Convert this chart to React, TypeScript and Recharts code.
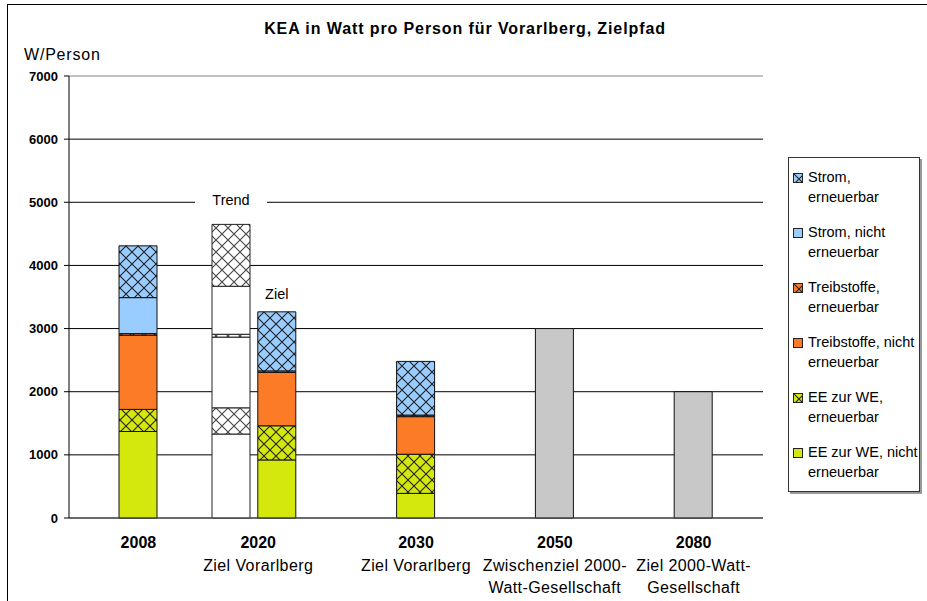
import { BarChart, Bar, XAxis, YAxis, CartesianGrid, LabelList, ReferenceLine } from "recharts";

const FONT = '"Liberation Sans", Arial, sans-serif';

const years = ["2008", "2020", "2030", "2050", "2080"];
const yearNotes = [
  [],
  ["Ziel Vorarlberg"],
  ["Ziel Vorarlberg"],
  ["Zwischenziel 2000-", "Watt-Gesellschaft"],
  ["Ziel 2000-Watt-", "Gesellschaft"],
];
const yTicks = [0, 1000, 2000, 3000, 4000, 5000, 6000, 7000];

// Zielpfad in W/Person
const eeNicht = [1370, 920, 390, null, null];
const eeErn = [350, 540, 620, null, null];
const treibNicht = [1175, 845, 595, null, null];
const treibErn = [25, 25, 25, null, null];
const stromNicht = [570, 0, 0, null, null];
const stromErn = [820, 935, 850, null, null];
const zielwert = [null, null, null, 3000, 2000];

// Trend 2020 (weisse Saeule)
const trendEeNicht = [null, 1330, null, null, null];
const trendEeErn = [null, 415, null, null, null];
const trendTreibNicht = [null, 1120, null, null, null];
const trendTreibErn = [null, 45, null, null, null];
const trendStromNicht = [null, 760, null, null, null];
const trendStromErn = [null, 980, null, null, null];

const barNotes = ["", "Ziel", "", "", ""];
const trendNotes = ["", "Trend", "", "", ""];

const data = years.map((year, i) => ({
  year,
  eeNicht: eeNicht[i],
  eeErn: eeErn[i],
  treibNicht: treibNicht[i],
  treibErn: treibErn[i],
  stromNicht: stromNicht[i],
  stromErn: stromErn[i],
  zielwert: zielwert[i],
  trendEeNicht: trendEeNicht[i],
  trendEeErn: trendEeErn[i],
  trendTreibNicht: trendTreibNicht[i],
  trendTreibErn: trendTreibErn[i],
  trendStromNicht: trendStromNicht[i],
  trendStromErn: trendStromErn[i],
  note: barNotes[i],
  trendNote: trendNotes[i],
}));

const YELLOW = "#D4E80E";
const ORANGE = "#FC7B27";
const BLUE = "#99CCFF";

const hatches = [
  { id: "hatch-yellow", color: YELLOW, line: "#222" },
  { id: "hatch-orange", color: ORANGE, line: "#222" },
  { id: "hatch-blue", color: BLUE, line: "#222" },
  { id: "hatch-white", color: "#fff", line: "#444" },
];

// bottom to top
const mainSeries = [
  { key: "eeNicht", fill: YELLOW },
  { key: "eeErn", fill: "url(#hatch-yellow)" },
  { key: "treibNicht", fill: ORANGE },
  { key: "treibErn", fill: "url(#hatch-orange)" },
  { key: "stromNicht", fill: BLUE },
  { key: "stromErn", fill: "url(#hatch-blue)" },
];
const trendSeries = [
  { key: "trendEeNicht", fill: "#fff" },
  { key: "trendEeErn", fill: "url(#hatch-white)" },
  { key: "trendTreibNicht", fill: "#fff" },
  { key: "trendTreibErn", fill: "url(#hatch-white)" },
  { key: "trendStromNicht", fill: "#fff" },
  { key: "trendStromErn", fill: "url(#hatch-white)" },
];

const legendItems = [
  { lines: ["Strom,", "erneuerbar"], fill: "url(#hatch-blue)" },
  { lines: ["Strom, nicht", "erneuerbar"], fill: BLUE },
  { lines: ["Treibstoffe,", "erneuerbar"], fill: "url(#hatch-orange)" },
  { lines: ["Treibstoffe, nicht", "erneuerbar"], fill: ORANGE },
  { lines: ["EE zur WE,", "erneuerbar"], fill: "url(#hatch-yellow)" },
  { lines: ["EE zur WE, nicht", "erneuerbar"], fill: YELLOW },
];

function YearTick(props: any) {
  const { x, y, payload, index } = props;
  // 2020 label sits between trend and ziel bar
  const shift = trendStromErn[index] != null ? -19 : 0;
  const notes = yearNotes[index] || [];
  return (
    <g transform={`translate(${x + shift},${y})`} fontFamily={FONT}>
      <text textAnchor="middle" y={30} fontSize={16} fontWeight="bold" fill="#000">
        {payload.value}
      </text>
      {notes.map((line, j) => (
        <text key={j} textAnchor="middle" y={53 + j * 22} fontSize={16} letterSpacing={0.4} fill="#000">
          {line}
        </text>
      ))}
    </g>
  );
}

const noteLabel = (gap: number, boxWidth: number) => (props: any) => {
  const { x, y, width, value } = props;
  if (!value) return null;
  const cx = Number(x) + Number(width) / 2;
  const cy = Number(y) - gap;
  return (
    <g>
      {boxWidth > 0 && <rect x={cx - boxWidth / 2} y={cy - 9} width={boxWidth} height={18} fill="#fff" />}
      <text x={cx} y={cy + 5} textAnchor="middle" fontSize={14.5} fontFamily={FONT} fill="#000">
        {value}
      </text>
    </g>
  );
};

export default function App() {
  return (
    <div style={{ position: "absolute", left: 0, top: 0, width: 927, height: 601, overflow: "hidden", background: "#fff", fontFamily: FONT }}>
      <div style={{ position: "absolute", left: 7, top: 4, width: 1000, height: 1000, border: "1px solid #000" }} />
      <div style={{ position: "absolute", left: 0, top: 20, width: 930, textAlign: "center", fontSize: 16, letterSpacing: 0.9, fontWeight: "bold" }}>
        KEA in Watt pro Person für Vorarlberg, Zielpfad
      </div>
      <div style={{ position: "absolute", left: 24, top: 46, fontSize: 16, letterSpacing: 0.8 }}>W/Person</div>

      <div style={{ position: "absolute", left: 0, top: 0 }}>
        <BarChart width={927} height={601} data={data} margin={{ top: 76, right: 164, bottom: 13, left: 9 }}>
          <defs>
            {hatches.map((h) => (
              <pattern key={h.id} id={h.id} patternUnits="userSpaceOnUse" width={12} height={12}>
                <rect width={12} height={12} fill={h.color} />
                <path d="M0,0 L12,12 M12,0 L0,12" stroke={h.line} strokeWidth={1.1} />
              </pattern>
            ))}
          </defs>
          <CartesianGrid vertical={false} stroke="#000" />
          <ReferenceLine y={7000} stroke="#C0C0C0" strokeWidth={2} />
          <XAxis dataKey="year" interval={0} tickLine={false} tickSize={0} tickMargin={0} height={70}
            axisLine={{ stroke: "#555" }} tick={<YearTick />} />
          <XAxis xAxisId="trend" dataKey="year" hide padding={{ left: 0, right: 154 }} />
          <YAxis domain={[0, 7000]} ticks={yTicks} interval={0} width={60} tickSize={5} tickMargin={6}
            axisLine={{ stroke: "#000" }} tickLine={{ stroke: "#000" }}
            tick={{ fontSize: 13, fontWeight: "bold", fill: "#000", fontFamily: FONT }} />
          {mainSeries.map((s) => (
            <Bar key={s.key} dataKey={s.key} stackId="main" fill={s.fill} stroke="#111" strokeWidth={1}
              barSize={38} isAnimationActive={false}>
              {s.key === "stromErn" && <LabelList dataKey="note" content={noteLabel(18, 0)} />}
            </Bar>
          ))}
          <Bar dataKey="zielwert" stackId="main" fill="#C8C8C8" stroke="#111" strokeWidth={1}
            barSize={38} isAnimationActive={false} />
          {trendSeries.map((s) => (
            <Bar key={s.key} dataKey={s.key} xAxisId="trend" stackId="trend" fill={s.fill} stroke="#222"
              strokeWidth={1} barSize={38} isAnimationActive={false}>
              {s.key === "trendStromErn" && <LabelList dataKey="trendNote" content={noteLabel(24, 72)} />}
            </Bar>
          ))}
        </BarChart>
      </div>

      <div style={{ position: "absolute", left: 788, top: 157, width: 130, height: 324, border: "1px solid #333",
        boxShadow: "2px 2px 0 #999", background: "#fff", paddingTop: 9, boxSizing: "content-box" }}>
        {legendItems.map((item, i) => (
          <div key={i} style={{ position: "relative", height: 55, paddingLeft: 19, fontSize: 14.5, lineHeight: "20px", whiteSpace: "nowrap" }}>
            <svg width={10} height={10} style={{ position: "absolute", left: 4, top: 6 }}>
              <rect x={0.5} y={0.5} width={9} height={9} fill={item.fill} stroke="#222" />
            </svg>
            {item.lines.map((l, j) => (
              <div key={j}>{l}</div>
            ))}
          </div>
        ))}
      </div>
    </div>
  );
}
